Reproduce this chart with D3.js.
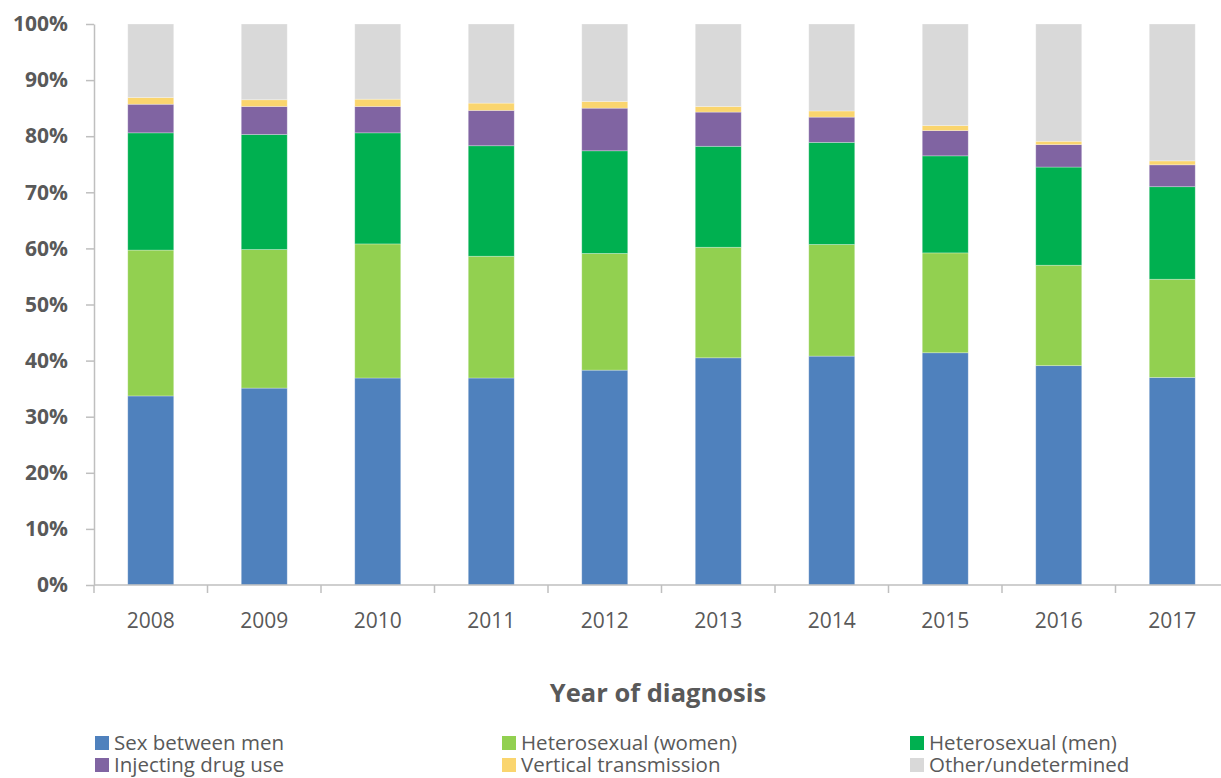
<!DOCTYPE html>
<html>
<head>
<meta charset="utf-8">
<script src="https://cdn.jsdelivr.net/npm/d3@7"></script>
<style>
  body { margin: 0; background: #fff; }
  svg { display: block; font-family: "Open Sans", sans-serif; }
</style>
</head>
<body>
<div id="chart"></div>
<script>
const WIDTH = 1221;
const HEIGHT = 778;
const MARGIN = { top: 24, left: 94, bottom: 193 };

const years = ["2008", "2009", "2010", "2011", "2012", "2013", "2014", "2015", "2016", "2017"];
const seriesNames = [
  "Sex between men",
  "Heterosexual (women)",
  "Heterosexual (men)",
  "Injecting drug use",
  "Vertical transmission",
  "Other/undetermined",
];
const seriesColors = ["#4f81bd", "#92d050", "#00b050", "#8064a2", "#fad56e", "#d9d9d9"];

// percent of diagnoses per year
const sexBetweenMen = [33.7, 35.1, 36.9, 36.9, 38.3, 40.5, 40.8, 41.4, 39.1, 37.0];
const heteroWomen = [26.0, 24.7, 23.9, 21.7, 20.8, 19.7, 19.9, 17.8, 17.9, 17.5];
const heteroMen = [20.9, 20.5, 19.8, 19.7, 18.3, 18.0, 18.2, 17.3, 17.5, 16.5];
const injectingDrugUse = [5.1, 5.0, 4.7, 6.3, 7.6, 6.1, 4.5, 4.5, 4.0, 3.9];
const verticalTransmission = [1.2, 1.2, 1.3, 1.3, 1.2, 1.0, 1.1, 0.9, 0.6, 0.7];
const otherUndetermined = [13.1, 13.5, 13.4, 14.1, 13.8, 14.7, 15.5, 18.1, 20.9, 24.4];

const yTicks = [0, 10, 20, 30, 40, 50, 60, 70, 80, 90, 100];

const seriesValues = [sexBetweenMen, heteroWomen, heteroMen, injectingDrugUse, verticalTransmission, otherUndetermined];
const rows = years.map((year, i) => {
  const row = { year };
  seriesNames.forEach((name, s) => { row[name] = seriesValues[s][i]; });
  return row;
});

const svg = d3.select("#chart")
  .append("svg")
  .attr("width", WIDTH)
  .attr("height", HEIGHT);

const x = d3.scaleBand()
  .domain(years)
  .range([MARGIN.left, MARGIN.left + 113.5 * years.length])
  .paddingInner(0.595)
  .paddingOuter(0.2975);

const y = d3.scaleLinear()
  .domain([0, 100])
  .range([HEIGHT - MARGIN.bottom, MARGIN.top]);

const stacked = d3.stack().keys(seriesNames)(rows);

svg.append("g")
  .selectAll("g")
  .data(stacked)
  .join("g")
  .attr("fill", (d, i) => seriesColors[i])
  .selectAll("rect")
  .data((d) => d)
  .join("rect")
  .attr("x", (d) => x(d.data.year))
  .attr("y", (d) => y(Math.min(d[1], 100)))
  .attr("width", x.bandwidth())
  .attr("height", (d) => y(d[0]) - y(Math.min(d[1], 100)))
  .attr("stroke", "#ffffff")
  .attr("stroke-opacity", 0.35)
  .attr("stroke-width", 0.8);

// y axis
const yAxis = svg.append("g")
  .attr("transform", `translate(${MARGIN.left},0)`)
  .call(d3.axisLeft(y).tickValues(yTicks).tickFormat((d) => d + "%").tickSize(8).tickSizeOuter(0));
yAxis.select(".domain").attr("stroke", "#bfbfbf").attr("stroke-width", 1.5);
yAxis.selectAll(".tick line").attr("stroke", "#bfbfbf").attr("stroke-width", 1.5);
yAxis.selectAll(".tick text")
  .attr("x", -26)
  .attr("fill", "#595959")
  .attr("font-size", 21)
  .attr("font-weight", "bold")
  .attr("font-family", "'Open Sans', sans-serif");

// x axis: ticks sit between the categories
const xAxisY = y(0);
const xAxis = svg.append("g").attr("transform", `translate(0,${xAxisY})`);
xAxis.append("line")
  .attr("x1", MARGIN.left)
  .attr("x2", WIDTH)
  .attr("stroke", "#bfbfbf")
  .attr("stroke-width", 1.5);
xAxis.selectAll("line.sep")
  .data(years)
  .join("line")
  .attr("class", "sep")
  .attr("x1", (d) => x(d) - x.step() * x.paddingInner() / 2)
  .attr("x2", (d) => x(d) - x.step() * x.paddingInner() / 2)
  .attr("y1", 0)
  .attr("y2", 8)
  .attr("stroke", "#bfbfbf")
  .attr("stroke-width", 1.5);
xAxis.selectAll("text")
  .data(years)
  .join("text")
  .attr("x", (d) => x(d) + x.bandwidth() / 2)
  .attr("y", 43)
  .attr("text-anchor", "middle")
  .attr("fill", "#595959")
  .attr("font-size", 21)
  .text((d) => d);

svg.append("text")
  .attr("x", 658)
  .attr("y", 702)
  .attr("text-anchor", "middle")
  .attr("fill", "#595959")
  .attr("font-size", 25.5)
  .attr("font-weight", "bold")
  .text("Year of diagnosis");

// legend, 3 columns x 2 rows
const legendCols = [95, 502, 910];
const legendRows = [743, 765];
const legend = svg.append("g")
  .selectAll("g")
  .data(seriesNames)
  .join("g")
  .attr("transform", (d, i) => `translate(${legendCols[i % 3]},${legendRows[Math.floor(i / 3)]})`);
legend.append("rect")
  .attr("x", 0)
  .attr("y", -7)
  .attr("width", 14)
  .attr("height", 14)
  .attr("fill", (d, i) => seriesColors[i]);
legend.append("text")
  .attr("x", 19)
  .attr("y", 0)
  .attr("dy", "0.35em")
  .attr("fill", "#595959")
  .attr("font-size", 20.5)
  .text((d) => d);
</script>
</body>
</html>
